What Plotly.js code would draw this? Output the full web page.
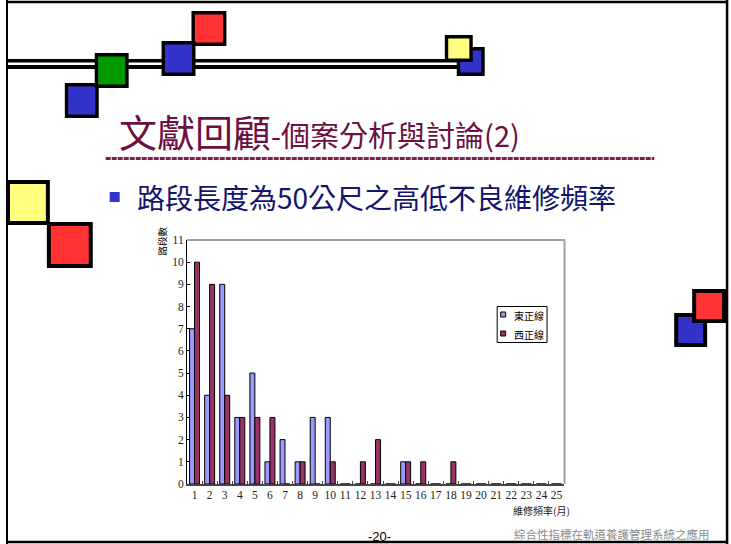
<!DOCTYPE html>
<html>
<head>
<meta charset="utf-8">
<script src="https://cdn.plot.ly/plotly-3.0.1.min.js"></script>
<style>
html,body{margin:0;padding:0;background:#fff;}
#chart{width:731px;height:544px;}
</style>
</head>
<body>
<div id="chart"></div>
<script>
// ---- data ----
const months = ['1','2','3','4','5','6','7','8','9','10','11','12','13','14','15','16','17','18','19','20','21','22','23','24','25'];
const eastCounts = [7,4,9,3,5,1,2,1,3,3,0,0,0,0,1,0,0,0,0,0,0,0,0,0,0];
const westCounts = [10,9,4,3,3,3,0,1,0,1,0,1,2,0,1,1,0,1,0,0,0,0,0,0,0];
const seriesNames = ['東正線','西正線'];
const seriesColors = ['#9999FF','#993366'];
const yTicks = [0,1,2,3,4,5,6,7,8,9,10,11];

// ---- page geometry (pixels) ----
const W = 731, H = 544;
const L = 186.5, R = 564.5, T = 240, B = 484;
const X = px => (px - L) / (R - L);
const Y = py => (B - py) / (B - T);

const shapes = [];
function line(x0, y0, x1, y1, color, width, dash) {
  shapes.push({type:'line', xref:'paper', yref:'paper', x0:X(x0), y0:Y(y0), x1:X(x1), y1:Y(y1),
    line:{color:color, width:width, dash:dash || 'solid'}});
}
function box(x0, y0, x1, y1, fill, bw) {
  const h = bw / 2;
  shapes.push({type:'rect', xref:'paper', yref:'paper', x0:X(x0 + h), x1:X(x1 - h), y0:Y(y1 - h), y1:Y(y0 + h),
    fillcolor:fill, line:{color: bw ? '#000' : fill, width: bw || 0}});
}

// slide frame
line(6, 0, 6, 544, '#000', 2);
line(5, 2, 729, 2, '#000', 2.5);
line(728, 0, 728, 544, '#000', 2.5);
line(5, 542, 729, 542, '#000', 2.5);

// double rule at top
box(5, 59, 462, 69, '#000', 0);
line(7, 63.7, 458, 63.7, '#fff', 2.4);

// decorative squares
box(64, 83, 98, 118, '#3333CC', 3.4);
box(94, 53, 128, 88, '#009900', 3.4);
box(191, 11, 226, 46, '#FF3333', 3.4);
box(161, 41, 195, 76, '#3333CC', 3.4);
box(457, 47, 485, 76, '#3333CC', 3.4);
box(445, 35, 473, 62, '#FFFF80', 3.4);
box(5, 180, 49, 225, '#FFFF80', 4);
box(46, 222, 92, 268, '#FF3333', 4);
box(675, 313, 708, 347, '#3333CC', 4);
box(693, 289, 727, 323, '#FF3333', 4);

// title underline
line(105, 158.5, 655, 158.5, '#7B1E4E', 3, '5px,1px');

// bullet
box(109, 192, 119, 202, '#3333CC', 0);

// plot-area gray border (top, right)
line(L, T, R + 1, T, '#A0A0A0', 2);
line(R + 0.5, T, R + 0.5, B, '#A0A0A0', 2);

// legend frame and swatches
box(497, 306, 548, 343, '#FFFFFF', 1);
box(500.5, 311.5, 506.5, 317.5, seriesColors[0], 1);
box(500.5, 330.5, 506.5, 336.5, seriesColors[1], 1);

const cjk = '"Noto Sans CJK TC", "Noto Sans CJK SC", sans-serif';
const annotations = [
  {text:'文獻回顧<span style="font-size:29px">-個案分析與討論(2)</span>', x:X(116), y:Y(130), xref:'paper', yref:'paper',
   xanchor:'left', yanchor:'middle', showarrow:false, font:{family:cjk, size:38, color:'#6B1040'}},
  {text:'路段長度為50公尺之高低不良維修頻率', x:X(134), y:Y(197), xref:'paper', yref:'paper',
   xanchor:'left', yanchor:'middle', showarrow:false, font:{family:cjk, size:28, color:'#14146E'}},
  {text:'路段數', x:X(161), y:Y(241), xref:'paper', yref:'paper', textangle:-90,
   xanchor:'center', yanchor:'middle', showarrow:false, font:{family:cjk, size:9.5, color:'#000'}},
  {text:'維修頻率(月)', x:X(573), y:Y(510), xref:'paper', yref:'paper',
   xanchor:'right', yanchor:'middle', showarrow:false, font:{family:cjk, size:10, color:'#222'}},
  {text:'-20-', x:X(380), y:Y(536), xref:'paper', yref:'paper',
   xanchor:'center', yanchor:'middle', showarrow:false, font:{family:'"Liberation Sans", Arial, sans-serif', size:13, color:'#000'}},
  {text:'綜合性指標在軌道養護管理系統之應用', x:X(713), y:Y(533.5), xref:'paper', yref:'paper',
   xanchor:'right', yanchor:'middle', showarrow:false, font:{family:cjk, size:11.5, color:'#8A8A8A'}},
  {text:seriesNames[0], x:X(512), y:Y(315), xref:'paper', yref:'paper',
   xanchor:'left', yanchor:'middle', showarrow:false, font:{family:cjk, size:10, color:'#000'}},
  {text:seriesNames[1], x:X(512), y:Y(334), xref:'paper', yref:'paper',
   xanchor:'left', yanchor:'middle', showarrow:false, font:{family:cjk, size:10, color:'#000'}}
];

const traces = [
  {type:'bar', name:seriesNames[0], x:months, y:eastCounts,
   marker:{color:seriesColors[0], line:{color:'#000', width:1}}},
  {type:'bar', name:seriesNames[1], x:months, y:westCounts,
   marker:{color:seriesColors[1], line:{color:'#000', width:1}}}
];

const tickFont = {family:'"Liberation Serif", "Times New Roman", serif', size:11.5, color:'#222'};
const layout = {
  width:W, height:H,
  margin:{l:L, r:W - R, t:T, b:H - B, pad:0},
  paper_bgcolor:'#fff', plot_bgcolor:'#fff',
  barmode:'group', bargap:0.34, bargroupgap:0,
  showlegend:false,
  xaxis:{type:'category', range:[-0.5, 24.5], showgrid:false, zeroline:false, showline:true,
    linecolor:'#444', linewidth:1.5, ticks:'inside', ticklen:3, tickcolor:'#444', tickson:'boundaries',
    tickangle:0, tickfont:tickFont, fixedrange:true},
  yaxis:{range:[0, 11], tickvals:yTicks, showgrid:false, zeroline:false, showline:true,
    linecolor:'#000', linewidth:1, ticks:'inside', ticklen:3, tickcolor:'#000',
    tickfont:tickFont, fixedrange:true},
  shapes:shapes,
  annotations:annotations
};

Plotly.newPlot('chart', traces, layout, {staticPlot:true, displayModeBar:false});
</script>
</body>
</html>
